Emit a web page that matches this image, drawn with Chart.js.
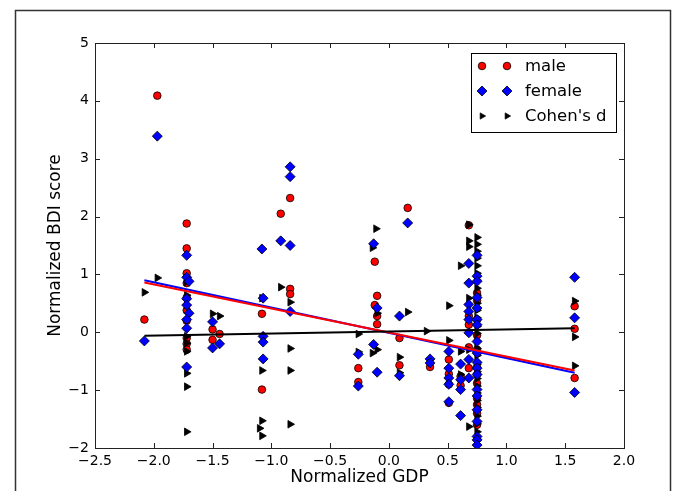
<!DOCTYPE html>
<html><head><meta charset="utf-8">
<script src="https://cdn.jsdelivr.net/npm/chart.js@4/dist/chart.umd.min.js"></script>
<style>html,body{margin:0;padding:0;background:#fff;}canvas{display:block;}</style>
</head><body>
<canvas id="c" width="673" height="491" style="width:673px;height:491px"></canvas>
<script>
// ---- tick labels ----
const xTickValues = [-2.5, -2, -1.5, -1, -0.5, 0, 0.5, 1, 1.5, 2];
const xTickLabels = ['\u22122.5', '\u22122.0', '\u22121.5', '\u22121.0', '\u22120.5', '0.0', '0.5', '1.0', '1.5', '2.0'];
const yTickValues = [-2, -1, 0, 1, 2, 3, 4, 5];
const yTickLabels = ['\u22122', '\u22121', '0', '1', '2', '3', '4', '5'];
const xTitle = 'Normalized GDP';
const yTitle = 'Normalized BDI score';
const seriesNames = ['male', 'female', "Cohen's d"];

// ---- series values [GDP, BDI] ----
const malePoints = [
  [-2.08,0.22],[-1.97,4.09],[-1.72,1.88],[-1.72,1.45],[-1.72,1.02],[-1.72,0.85],[-1.72,0.60],[-1.72,0.38],
  [-1.72,0.20],[-1.72,-0.10],[-1.72,-0.20],[-1.72,-0.30],[-1.50,0.05],[-1.50,-0.13],[-1.44,-0.03],
  [-1.08,0.32],[-1.08,-0.99],[-0.92,2.05],[-0.84,2.32],[-0.84,0.75],[-0.84,0.66],
  [-0.26,-0.62],[-0.26,-0.86],[-0.12,1.22],[-0.12,0.47],[-0.10,0.63],[-0.10,0.28],[-0.10,0.14],
  [0.09,-0.10],[0.09,-0.57],[0.16,2.15],[0.35,-0.60],[0.51,-0.47],[0.51,-0.72],[0.51,-0.90],[0.51,-1.22],
  [0.61,-0.76],[0.61,-0.92],[0.68,1.85],[0.68,0.28],[0.68,0.13],[0.68,-0.26],[0.68,-0.62],
  [0.75,0.68],[0.75,0.55],[0.75,0.22],[0.75,-0.05],[0.75,-0.30],[0.75,-0.60],[0.75,-0.73],[0.75,-0.88],
  [0.75,-1.14],[0.75,-1.25],[0.75,-1.40],[0.75,-1.60],[1.58,0.45],[1.58,0.06],[1.58,-0.79]
];
const femalePoints = [
  [-2.08,-0.15],[-1.97,3.39],[-1.72,1.33],[-1.72,0.95],[-1.70,0.88],[-1.72,0.58],[-1.72,0.47],[-1.70,0.33],
  [-1.72,0.22],[-1.72,0.07],[-1.72,-0.60],[-1.50,0.18],[-1.50,-0.27],[-1.44,-0.20],
  [-1.08,1.44],[-1.07,0.59],[-1.07,-0.07],[-1.07,-0.17],[-1.07,-0.46],[-0.92,1.58],
  [-0.84,2.86],[-0.84,2.69],[-0.84,1.50],[-0.84,0.36],[-0.26,-0.38],[-0.26,-0.93],
  [-0.13,1.53],[-0.10,0.42],[-0.13,-0.21],[-0.10,-0.69],[0.09,0.28],[0.09,-0.75],[0.16,1.89],
  [0.35,-0.46],[0.35,-0.53],[0.51,-0.33],[0.51,-0.62],[0.51,-0.79],[0.51,-0.90],[0.51,-1.20],
  [0.61,-0.55],[0.61,-0.82],[0.61,-0.99],[0.61,-1.44],
  [0.68,1.19],[0.68,0.85],[0.68,0.48],[0.68,0.36],[0.68,0.22],[0.68,-0.01],[0.68,-0.47],[0.68,-0.79],
  [0.75,1.33],[0.75,0.97],[0.75,0.88],[0.75,0.60],[0.75,0.42],[0.75,0.22],[0.75,0.13],[0.75,-0.16],
  [0.75,-0.36],[0.75,-0.52],[0.75,-0.62],[0.75,-0.73],[0.75,-0.99],[0.75,-1.10],[0.75,-1.34],
  [0.75,-1.54],[0.75,-1.80],[0.75,-1.86],[0.75,-1.95],[1.58,0.95],[1.58,0.25],[1.58,-1.04]
];
const cohenPoints = [
  [-2.08,0.69],[-1.97,0.94],[-1.72,0.94],[-1.72,0.87],[-1.72,0.64],[-1.72,0.47],[-1.72,-0.07],
  [-1.72,-0.19],[-1.72,-0.33],[-1.72,-0.71],[-1.72,-0.94],[-1.72,-1.72],[-1.50,0.32],[-1.44,0.28],
  [-1.08,0.59],[-1.08,-0.66],[-1.08,-1.53],[-1.10,-1.66],[-1.08,-1.79],[-0.92,0.78],
  [-0.84,0.52],[-0.84,-0.28],[-0.84,-0.66],[-0.84,-1.59],[-0.26,-0.34],[-0.26,-0.03],
  [-0.11,1.79],[-0.14,1.46],[-0.10,0.33],[-0.14,-0.36],[-0.10,-0.30],[0.09,-0.43],[0.09,-0.70],
  [0.16,0.35],[0.32,0.02],[0.51,0.46],[0.51,-0.14],[0.61,1.15],[0.61,-0.33],[0.61,-0.73],
  [0.68,1.86],[0.68,1.58],[0.68,1.48],[0.68,0.59],[0.68,-0.30],[0.68,-1.63],
  [0.75,1.64],[0.75,1.52],[0.75,1.40],[0.75,1.28],[0.75,1.15],[0.75,1.02],[0.75,0.90],[0.75,0.76],
  [0.75,0.64],[0.75,0.50],[0.75,0.38],[0.75,0.25],[0.75,0.10],[0.75,-0.02],[0.75,-0.15],[0.75,-0.28],
  [0.75,-0.40],[0.75,-0.55],[0.75,-0.68],[0.75,-0.80],[0.75,-0.93],[0.75,-1.05],[0.75,-1.18],
  [0.75,-1.30],[0.75,-1.45],[0.75,-1.58],[0.75,-1.72],[0.75,-1.85],
  [1.58,0.54],[1.58,-0.08],[1.58,-0.58]
];
// fitted trend lines, endpoints
const maleFit = [[-2.08,0.86],[1.58,-0.66]];
const femaleFit = [[-2.08,0.90],[1.58,-0.70]];
const cohenFit = [[-2.08,-0.06],[1.58,0.07]];

const toXY = arr => arr.map(p => ({x: p[0], y: p[1]}));
const FONT = 'DejaVu Sans';

function drawMarker(ctx, kind, x, y) {
  ctx.save();
  ctx.lineWidth = 0.8;
  ctx.strokeStyle = '#000';
  ctx.beginPath();
  if (kind === 0) { ctx.fillStyle = '#ff0000'; ctx.arc(x, y, 3.8, 0, Math.PI * 2); }
  else if (kind === 1) { ctx.fillStyle = '#0000ff'; const r = 5; ctx.moveTo(x - r, y); ctx.lineTo(x, y - r); ctx.lineTo(x + r, y); ctx.lineTo(x, y + r); ctx.closePath(); }
  else { ctx.fillStyle = '#000'; const r = 3.6; ctx.moveTo(x + r, y); ctx.lineTo(x - r * 0.5, y - r * 0.866); ctx.lineTo(x - r * 0.5, y + r * 0.866); ctx.closePath(); }
  ctx.fill(); ctx.stroke();
  ctx.restore();
}

const framePlugin = {
  id: 'frame',
  beforeDraw(chart) {
    const ctx = chart.ctx;
    ctx.save();
    ctx.fillStyle = '#fff';
    ctx.fillRect(0, 0, chart.width, chart.height);
    ctx.strokeStyle = '#333';
    ctx.lineWidth = 1.5;
    ctx.strokeRect(15.5, 10.5, 655, 520);
    ctx.restore();
  },
  afterDraw(chart) {
    const ctx = chart.ctx;
    const a = chart.chartArea;
    const xs = chart.scales.x, ys = chart.scales.y;
    ctx.save();
    ctx.strokeStyle = '#222';
    ctx.lineWidth = 1;
    ctx.strokeRect(Math.round(a.left) + 0.5, Math.round(a.top) + 0.5, Math.round(a.right - a.left), Math.round(a.bottom - a.top));
    const tl = 5;
    ctx.beginPath();
    xTickValues.forEach(v => {
      const px = Math.round(xs.getPixelForValue(v)) + 0.5;
      ctx.moveTo(px, a.bottom); ctx.lineTo(px, a.bottom - tl);
      ctx.moveTo(px, a.top); ctx.lineTo(px, a.top + tl);
    });
    yTickValues.forEach(v => {
      const py = Math.round(ys.getPixelForValue(v)) + 0.5;
      ctx.moveTo(a.left, py); ctx.lineTo(a.left + tl, py);
      ctx.moveTo(a.right, py); ctx.lineTo(a.right - tl, py);
    });
    ctx.stroke();
    // legend
    const lx = 471, ly = 53, lw = 145, lh = 79;
    ctx.fillStyle = '#fff';
    ctx.fillRect(lx, ly, lw, lh);
    ctx.strokeStyle = '#000';
    ctx.strokeRect(lx + 0.5, ly + 0.5, lw, lh);
    ctx.font = '16.5px "' + FONT + '"';
    ctx.textBaseline = 'middle';
    ctx.textAlign = 'left';
    seriesNames.forEach((name, i) => {
      const ry = 66 + i * 25;
      drawMarker(ctx, i, 482, ry);
      drawMarker(ctx, i, 507, ry);
      ctx.fillStyle = '#000';
      ctx.fillText(name, 525, ry + 1);
    });
    ctx.restore();
  }
};

new Chart(document.getElementById('c'), {
  type: 'scatter',
  data: {
    datasets: [
      {type: 'line', label: 'cohen fit', data: toXY(cohenFit), borderColor: '#000', borderWidth: 2, pointRadius: 0, fill: false, order: 0},
      {type: 'line', label: 'male fit', data: toXY(maleFit), borderColor: '#ff0000', borderWidth: 2, pointRadius: 0, fill: false, order: 1},
      {type: 'line', label: 'female fit', data: toXY(femaleFit), borderColor: '#0000ff', borderWidth: 2, pointRadius: 0, fill: false, order: 2},
      {label: seriesNames[1], data: toXY(femalePoints), pointStyle: 'rectRot', pointRadius: 5, backgroundColor: '#0000ff', borderColor: '#000', borderWidth: 0.8, order: 3},
      {label: seriesNames[2], data: toXY(cohenPoints), pointStyle: 'triangle', rotation: 90, pointRadius: 4.4, backgroundColor: '#000', borderColor: '#000', borderWidth: 0.8, order: 4},
      {label: seriesNames[0], data: toXY(malePoints), pointStyle: 'circle', pointRadius: 3.8, backgroundColor: '#ff0000', borderColor: '#000', borderWidth: 0.8, order: 5}
    ]
  },
  options: {
    responsive: false,
    animation: false,
    devicePixelRatio: 1,
    layout: {padding: {left: 0, right: 49, top: 43, bottom: 0}},
    plugins: {legend: {display: false}, tooltip: {enabled: false}},
    scales: {
      x: {
        type: 'linear', min: -2.5, max: 2,
        afterBuildTicks: s => { s.ticks = xTickValues.map(v => ({value: v})); },
        afterFit: s => { s.height = 43; },
        grid: {display: false, drawTicks: false}, border: {display: false},
        ticks: {callback: (v, i) => xTickLabels[i], font: {family: FONT, size: 14}, color: '#000', padding: 5, maxRotation: 0, autoSkip: false},
        title: {display: true, text: xTitle, font: {family: FONT, size: 17}, color: '#000', padding: {top: 0, bottom: 3}}
      },
      y: {
        type: 'linear', min: -2, max: 5,
        afterBuildTicks: s => { s.ticks = yTickValues.map(v => ({value: v})); },
        afterFit: s => { s.width = 95; },
        grid: {display: false, drawTicks: false}, border: {display: false},
        ticks: {callback: (v, i) => yTickLabels[i], font: {family: FONT, size: 14}, color: '#000', padding: 6, autoSkip: false},
        title: {display: true, text: yTitle, font: {family: FONT, size: 17}, color: '#000', padding: {top: 45, bottom: 0}}
      }
    }
  },
  plugins: [framePlugin]
});
</script>
</body></html>
